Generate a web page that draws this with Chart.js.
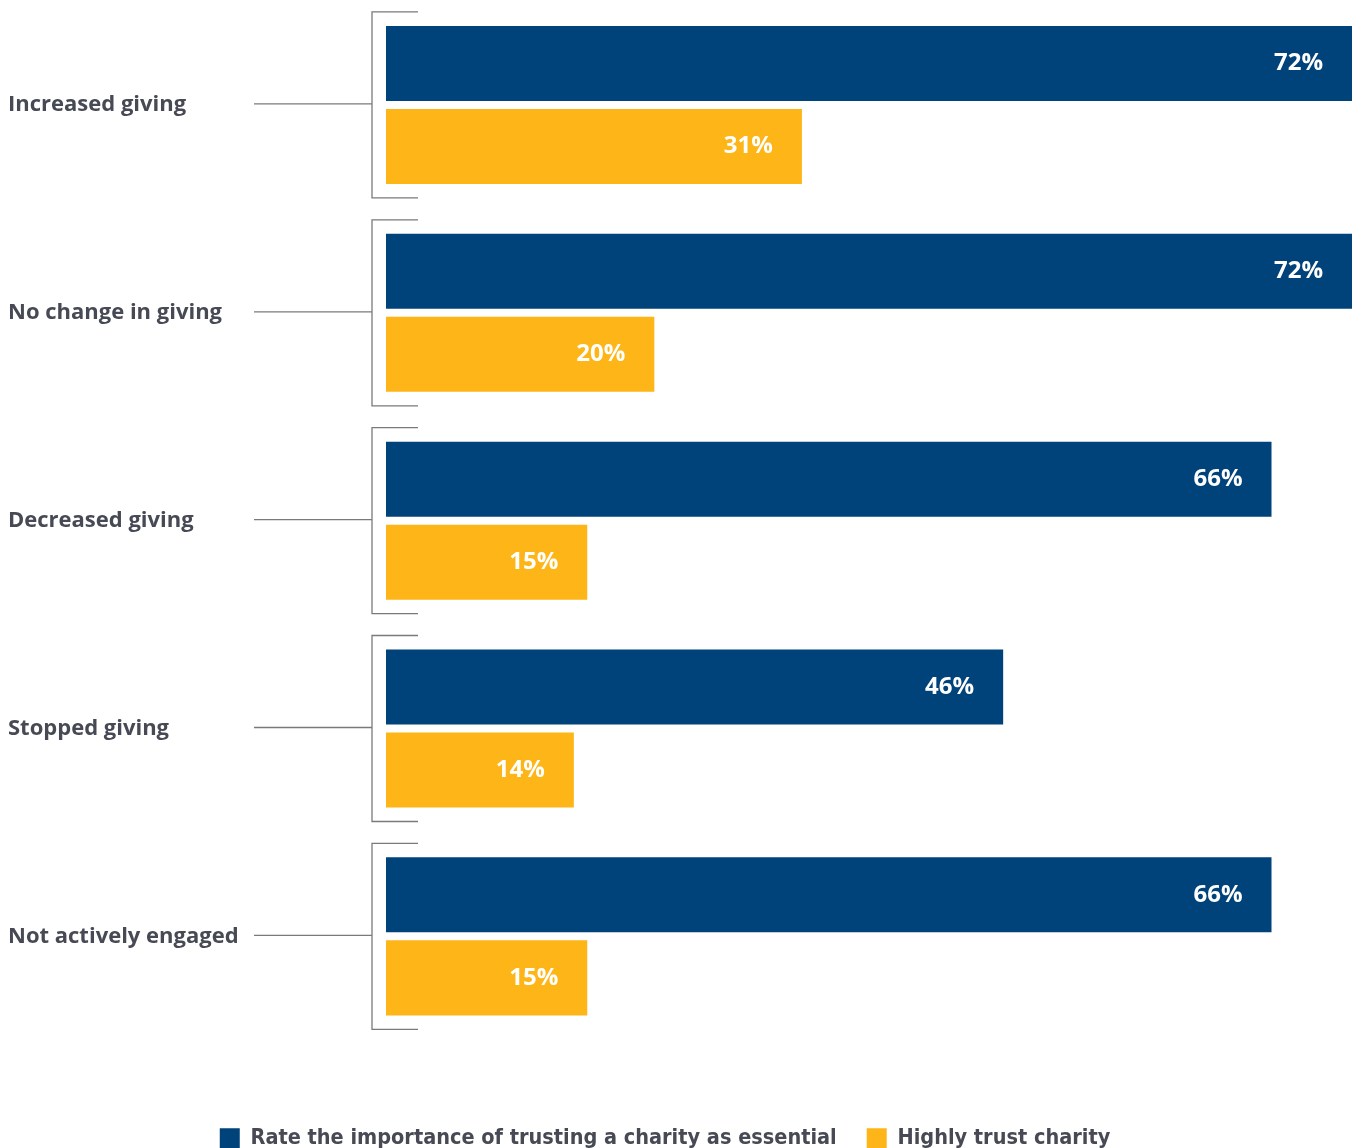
<!DOCTYPE html>
<html>
<head>
<meta charset="utf-8">
<script src="https://cdn.jsdelivr.net/npm/chart.js@4.4.0/dist/chart.umd.min.js"></script>
<style>
html,body{margin:0;padding:0;background:#fff;overflow:hidden;}
#wrap{width:1353px;height:1159px;position:relative;}
</style>
</head>
<body>
<div id="wrap"><canvas id="c" width="1353" height="1159"></canvas></div>
<script>
const categories = ["Increased giving", "No change in giving", "Decreased giving", "Stopped giving", "Not actively engaged"];
const essentialValues = [72, 72, 66, 46, 66];
const trustValues = [31, 20, 15, 14, 15];
const seriesNames = ["Rate the importance of trusting a charity as essential", "Highly trust charity"];

const BLUE = "#00427a";
const ORANGE = "#fdb518";
const TEXT = "#474a54";
const LINE = "#7a7a7a";
const labelFont = "'Open Sans', 'DejaVu Sans', sans-serif";
const legendFont = "'Liberation Sans Narrow', 'DejaVu Sans Condensed', 'Roboto Condensed', sans-serif";

const bracketPlugin = {
  id: 'brackets',
  afterLayout(chart) {
    if (chart.legend) { chart.legend.left -= 15; chart.legend.right -= 15; }
  },
  afterDatasetsDraw(chart) {
    const ctx = chart.ctx;
    const y = chart.scales.y;
    const area = chart.chartArea;
    ctx.save();
    ctx.strokeStyle = LINE;
    ctx.lineWidth = 1.3;
    categories.forEach((c, i) => {
      const cy = y.getPixelForValue(i);
      const bx = area.left - 14;
      const top = cy - 93, bot = cy + 93;
      ctx.beginPath();
      ctx.moveTo(area.left + 32, top);
      ctx.lineTo(bx, top);
      ctx.lineTo(bx, bot);
      ctx.lineTo(area.left + 32, bot);
      ctx.stroke();
      ctx.beginPath();
      ctx.moveTo(254, cy - 1);
      ctx.lineTo(bx, cy - 1);
      ctx.stroke();
    });
    // value labels
    ctx.fillStyle = "#ffffff";
    ctx.font = "700 24px " + labelFont;
    ctx.textAlign = "right";
    ctx.textBaseline = "middle";
    chart.data.datasets.forEach((ds, di) => {
      const meta = chart.getDatasetMeta(di);
      meta.data.forEach((bar, i) => {
        ctx.fillText(ds.data[i] + "%", bar.x - 29, bar.y);
      });
    });
    ctx.restore();
  }
};

new Chart(document.getElementById('c'), {
  type: 'bar',
  data: {
    labels: categories,
    datasets: [
      { label: seriesNames[0], data: essentialValues, backgroundColor: BLUE },
      { label: seriesNames[1], data: trustValues, backgroundColor: ORANGE }
    ]
  },
  options: {
    indexAxis: 'y',
    responsive: false,
    animation: false,
    categoryPercentage: 0.7988,
    barPercentage: 0.9036,
    layout: { padding: { left: 8, right: 1, top: 1, bottom: 0 } },
    scales: {
      x: { display: false, min: 0, max: 72 },
      y: {
        grid: { display: false, drawTicks: false },
        border: { display: false },
        ticks: {
          crossAlign: 'far',
          color: TEXT,
          padding: 0,
          font: { family: labelFont, weight: '700', size: 22 }
        },
        afterFit(scale) { scale.width = 378; scale.paddingTop = 0; scale.paddingBottom = 0; }
      }
    },
    plugins: {
      tooltip: { enabled: false },
      legend: {
        position: 'bottom',
        title: { display: true, text: ' ', padding: { top: 56, bottom: 0 }, font: { size: 1 } },
        labels: {
          boxWidth: 20,
          boxHeight: 20,
          padding: 30,
          color: TEXT,
          font: { family: legendFont, weight: '700', size: 21.5 }
        }
      }
    }
  },
  plugins: [bracketPlugin]
});
</script>
</body>
</html>
